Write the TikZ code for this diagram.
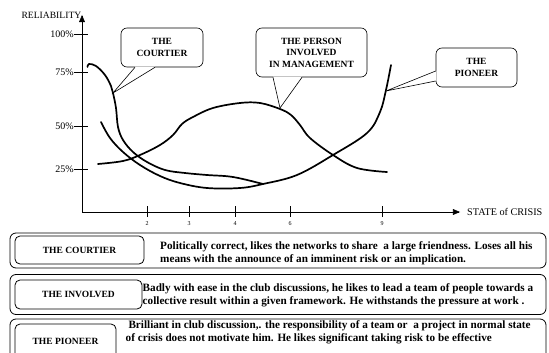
\documentclass[tikz,border=0pt]{standalone}
\usepackage{fontspec}
\setmainfont{Liberation Serif}
\usepackage{tikz}
\usetikzlibrary{calc}
\usetikzlibrary{arrows}
\usetikzlibrary{positioning}

\begin{document}
\begin{tikzpicture}[x=1pt,y=-1pt]
  \tikzset{myaxis/.style={->, >=triangle 45, line width=0.6pt}};
  \tikzset{mytick/.style={line width=0.6pt}};
  \tikzset{mycurve/.style={line width=1.7pt, line cap=round}};
  \tikzset{mybubble/.style={draw, rounded corners=6pt, fill=white, align=center, inner sep=0pt, line width=0.6pt, font=\fontsize{9.5}{11.5}\selectfont\bfseries}};
  \tikzset{mybox/.style={draw, rounded corners=6pt, line width=0.8pt, inner sep=0pt}};
  \tikzset{mylabel/.style={draw, rounded corners=5pt, line width=0.8pt, inner sep=0pt, font=\fontsize{9.5}{11}\selectfont\bfseries}};
  \tikzset{mytext/.style={anchor=west, align=left, inner sep=0pt, font=\fontsize{11.2}{13}\selectfont\bfseries}};
  \useasboundingbox (0,0) rectangle (549,353);

  % axes
  \coordinate (o) at (82,212);
  \coordinate (ytop) at (82,15);
  \coordinate (xend) at (460,212);
  \draw [myaxis] (o) -- (ytop);
  \draw [myaxis] (o) -- (xend);
  \node [anchor=east, inner sep=0.5pt, font=\fontsize{9.6}{10}\selectfont] (ylab) at (ytop) {RELIABILITY};
  \node [anchor=west, inner sep=0pt, font=\fontsize{10.2}{11}\selectfont, right=7pt of xend] (xlab) {STATE of CRISIS};

  % y ticks
  \draw [mytick] (74,34) -- (88,34) node [pos=0, anchor=east, inner sep=0pt, font=\fontsize{10}{12}\selectfont] (y100) {100\%};
  \draw [mytick] (74,72) -- (88,72) node [pos=0, anchor=east, inner sep=0pt, font=\fontsize{10}{12}\selectfont] (y75) {75\%};
  \draw [mytick] (74,126) -- (88,126) node [pos=0, anchor=east, inner sep=0pt, font=\fontsize{10}{12}\selectfont] (y50) {50\%};
  \draw [mytick] (74,169) -- (88,169) node [pos=0, anchor=east, inner sep=0pt, font=\fontsize{10}{12}\selectfont] (y25) {25\%};

  % x ticks
  \draw [mytick] (147,206) -- (147,217) node [below=4pt, font=\fontsize{6}{7}\selectfont, inner sep=0pt] (x2) {2};
  \draw [mytick] (189,206) -- (189,217) node [below=4pt, font=\fontsize{6}{7}\selectfont, inner sep=0pt] (x3) {3};
  \draw [mytick] (235,206) -- (235,217) node [below=4pt, font=\fontsize{6}{7}\selectfont, inner sep=0pt] (x4) {4};
  \draw [mytick] (290,206) -- (290,217) node [below=4pt, font=\fontsize{6}{7}\selectfont, inner sep=0pt] (x6) {6};
  \draw [mytick] (382,206) -- (382,217) node [below=4pt, font=\fontsize{6}{7}\selectfont, inner sep=0pt] (x9) {9};

  % curves
  \draw [mycurve] plot [smooth, tension=0.6] coordinates {(87.5,67) (89,64) (96,66) (105,75) (111,86) (113,93) (116,108) (118,127) (123,140) (133,152) (147,162) (165,170) (185,173) (207,175) (233,177) (263,184)};
  \draw [mycurve] plot [smooth, tension=0.6] coordinates {(101,122) (110,138) (123,152) (140,165) (160,176) (180,183) (207,188) (240,188) (263,184) (297,175) (333,155) (367,133) (380,112) (386,90) (391,65)};
  \draw [mycurve] plot [smooth, tension=0.6] coordinates {(98,164) (123,161) (140,155) (160,145) (173,135) (182,124) (193,117) (213,108) (240,103) (260,103) (280,109) (291,115) (300,125) (310,138) (333,155) (357,168) (387,172)};

  \coordinate (tc) at (113,93);
  \coordinate (tp) at (280,108);
  \coordinate (tn) at (386,91);

  % bubbles
  \node [mybubble, minimum width=82pt, minimum height=39pt] (courtier) at (162,47.5) {THE\\COURTIER};
  \node [mybubble, minimum width=111pt, minimum height=49pt] (person) at (311.5,52.5) {THE PERSON\\INVOLVED\\IN MANAGEMENT};
  \node [mybubble, minimum width=81pt, minimum height=39pt] (pioneer) at (476.5,67.5) {THE\\PIONEER};

  \fill [white] ([xshift=-27pt, yshift=0.6pt]courtier.south) -- (tc) -- ([xshift=-7pt, yshift=0.6pt]courtier.south) -- cycle;
  \draw [line width=0.6pt] ([xshift=-27pt]courtier.south) -- (tc) -- ([xshift=-7pt]courtier.south);
  \fill [white] ([xshift=-38.5pt, yshift=0.6pt]person.south) -- (tp) -- ([xshift=-9.5pt, yshift=0.6pt]person.south) -- cycle;
  \draw [line width=0.6pt] ([xshift=-38.5pt]person.south) -- (tp) -- ([xshift=-9.5pt]person.south);
  \fill [white] ([xshift=0.6pt, yshift=-3.5pt]pioneer.west) -- (tn) -- ([xshift=0.6pt, yshift=-13.5pt]pioneer.west) -- cycle;
  \draw [line width=0.6pt] ([yshift=-3.5pt]pioneer.west) -- (tn) -- ([yshift=-13.5pt]pioneer.west);

  % description boxes
  \node [mybox, minimum width=536pt, minimum height=35pt] (b1) at (278,250.5) {};
  \node [mybox, minimum width=536pt, minimum height=40pt] (b2) at (278,294.5) {};
  \node [mybox, minimum width=536pt, minimum height=46pt] (b3) at (278,342) {};

  \node [mylabel, minimum width=129pt, minimum height=28pt] (l1) at (79.5,250) {THE COURTIER};
  \node [mylabel, minimum width=127pt, minimum height=29pt] (l2) at (78.5,294.5) {THE INVOLVED};
  \node [mylabel, minimum width=101pt, minimum height=34pt] (l3) at (65.5,341) {THE PIONEER};

  \node [mytext] (t1) at (160,253.5) {Politically correct, likes the networks to share\ \ a large friendness. Loses all his\\means with the announce of an imminent risk or an implication.};
  \node [mytext] (t2) at (142.5,295) {Badly with ease in the club discussions, he likes to lead a team of people towards a\\collective result within a given framework. He withstands the pressure at work .};
  \node [mytext] (t3) at (125.5,332.5) {\ Brilliant in club discussion,. the responsibility of a team or\ \ a project in normal state\\of crisis does not motivate him. He likes significant taking risk to be effective};

\end{tikzpicture}
\end{document}
